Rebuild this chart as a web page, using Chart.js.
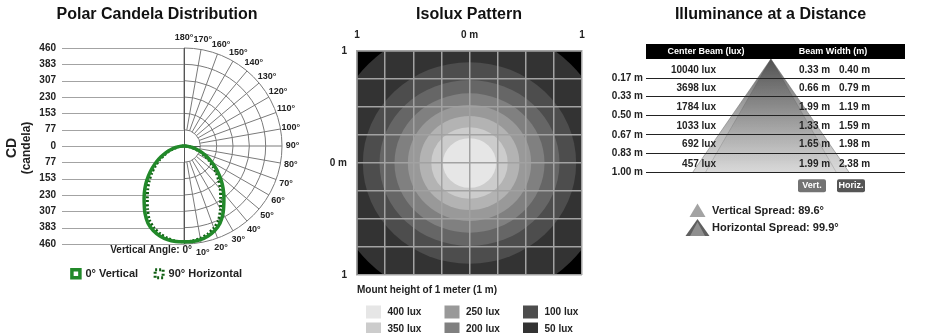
<!DOCTYPE html>
<html><head><meta charset="utf-8">
<script src="https://cdn.jsdelivr.net/npm/chart.js@4.4.1/dist/chart.umd.min.js"></script>
<style>
html,body{margin:0;padding:0;background:#fff;}
#wrap{position:relative;width:931px;height:333px;overflow:hidden;background:#fff;}
#wrap canvas{position:absolute;top:0;}
</style></head><body>
<div id="wrap">
<canvas id="polar" width="314" height="333" style="left:0px;width:314px;height:333px"></canvas>
<canvas id="isolux" width="298" height="333" style="left:320px;width:298px;height:333px"></canvas>
<canvas id="illum" width="321" height="333" style="left:610px;width:321px;height:333px"></canvas>
</div>
<script>
// ---------------- DATA ----------------
// Polar candela distribution (candela at vertical angle, degrees from nadir)
const polarAngles = [0,5,10,15,20,25,30,35,40,45,50,55,60,65,70,75,80,85,90];
const candelaVertical = [450,450,446,437,422,400,366,326,290,254,218,182,150,119,90,63,40,19,0];
const candelaHorizontal = [450,448,440,428,410,384,342,300,265,231,198,165,135,106,80,55,34,16,0];
const candelaTickValues = [460,383.33,306.67,230,153.33,76.67,0,-76.67,-153.33,-230,-306.67,-383.33,-460];
const candelaTickLabels = ['460','383','307','230','153','77','0','77','153','230','307','383','460'];
const polarRingValues = [76.67,153.33,230,306.67,383.33,460];
const polarGridAngles = [0,10,20,30,40,50,60,70,80,90,100,110,120,130,140,150,160,170,180];
const seriesNames = ['0° Vertical','90° Horizontal'];

// Isolux pattern (contour half-extent in metres at 1 m mount height)
const isoluxLevels = [400,350,300,250,200,150,100,50];
const isoluxHalfWidth = [0.237,0.34,0.444,0.548,0.667,0.80,0.948,1.27];
const isoluxHalfHeight = [0.222,0.32,0.42,0.518,0.622,0.74,0.90,1.25];
const isoluxGridTicks = [-1,-0.75,-0.5,-0.25,0,0.25,0.5,0.75,1];
const isoluxTickValues = [-1,0,1];
const isoluxTickLabels = ['1','0 m','1'];

// Illuminance at a distance
const distances = [0.17,0.33,0.50,0.67,0.83,1.00];
const distanceLabels = ['0.17 m','0.33 m','0.50 m','0.67 m','0.83 m','1.00 m'];
const centerBeamLux = [10040,3698,1784,1033,692,457];
const beamWidthVert = [0.33,0.66,1.99,1.33,1.65,1.99];
const beamWidthHoriz = [0.40,0.79,1.19,1.59,1.98,2.38];
const verticalSpread = 89.6;
const horizontalSpread = 99.9;

// ---------------- STYLE ----------------
const FONT = '"Liberation Sans", Arial, Helvetica, sans-serif';
Chart.defaults.font.family = FONT;
Chart.defaults.color = '#222';
const isoluxColors = ['#e6e6e6','#cccccc','#b3b3b3','#999999','#808080','#666666','#4d4d4d','#333333'];
const titleOpts = (text, bottom) => ({display:true, text, color:'#111',
  font:{size:16, weight:'bold', family:FONT}, padding:{top:5.4, bottom}});
const spacerAxis = w => ({type:'linear', position:'right', display:true,
  ticks:{display:false}, grid:{display:false, drawTicks:false}, border:{display:false},
  afterFit: s => { s.width = w; }});

// ---------------- POLAR ----------------
function polarPoints(vals){
  const pts = [];
  for (let i = polarAngles.length - 1; i >= 0; i--) {
    const a = polarAngles[i] * Math.PI / 180;
    pts.push({x: -vals[i] * Math.sin(a), y: -vals[i] * Math.cos(a)});
  }
  for (let i = 1; i < polarAngles.length; i++) {
    const a = polarAngles[i] * Math.PI / 180;
    pts.push({x: vals[i] * Math.sin(a), y: -vals[i] * Math.cos(a)});
  }
  return pts;
}

const polarGrid = {
  id: 'polarGrid',
  beforeDatasetsDraw(chart) {
    const {ctx, chartArea: a, scales: {x, y}} = chart;
    const cx = x.getPixelForValue(0), cy = y.getPixelForValue(0);
    const k = (x.getPixelForValue(460) - cx) / 460;
    const rIn = polarRingValues[0] * k, rOut = polarRingValues[polarRingValues.length - 1] * k;
    ctx.save();
    ctx.lineWidth = 1;
    ctx.strokeStyle = '#a3a3a3';
    candelaTickValues.forEach(v => {
      const py = Math.round(y.getPixelForValue(v)) + 0.5;
      ctx.beginPath(); ctx.moveTo(a.left, py); ctx.lineTo(cx, py); ctx.stroke();
    });
    ctx.strokeStyle = '#7a7a7a';
    polarRingValues.forEach(r => {
      ctx.beginPath(); ctx.arc(cx, cy, r * k, -Math.PI / 2, Math.PI / 2); ctx.stroke();
    });
    polarGridAngles.forEach(d => {
      const t = d * Math.PI / 180, sx = Math.sin(t), sy = Math.cos(t);
      ctx.beginPath(); ctx.moveTo(cx + rIn * sx, cy + rIn * sy); ctx.lineTo(cx + rOut * sx, cy + rOut * sy); ctx.stroke();
    });
    ctx.strokeStyle = '#555';
    ctx.beginPath(); ctx.moveTo(Math.round(cx) + 0.5, cy - rOut); ctx.lineTo(Math.round(cx) + 0.5, cy + rOut); ctx.stroke();
    ctx.beginPath(); ctx.moveTo(cx, Math.round(cy) + 0.5); ctx.lineTo(cx + rIn, Math.round(cy) + 0.5); ctx.stroke();
    // angle labels
    ctx.fillStyle = '#222';
    ctx.font = 'bold 9px ' + FONT;
    ctx.textAlign = 'center'; ctx.textBaseline = 'middle';
    polarGridAngles.forEach(d => {
      if (d === 0) return;
      const t = d * Math.PI / 180;
      ctx.fillText(d + '°', cx + (rOut + 10.5) * Math.sin(t), cy + (rOut + 10.5) * Math.cos(t));
    });
    ctx.font = 'bold 10px ' + FONT;
    ctx.textAlign = 'right';
    ctx.fillText('Vertical Angle: 0°', cx + 8, cy + rOut + 6.5);
    // axis title
    ctx.textAlign = 'center';
    ctx.translate(12.5, 148); ctx.rotate(-Math.PI / 2);
    ctx.font = 'bold 14px ' + FONT; ctx.fillText('CD', 0, 0);
    ctx.restore();
    ctx.save();
    ctx.fillStyle = '#222'; ctx.textAlign = 'center'; ctx.textBaseline = 'middle';
    ctx.translate(26.5, 148); ctx.rotate(-Math.PI / 2);
    ctx.font = 'bold 12px ' + FONT; ctx.fillText('(candela)', 0, 0);
    ctx.restore();
  }
};

new Chart(document.getElementById('polar'), {
  type: 'scatter',
  data: {datasets: [
    {label: seriesNames[0], data: polarPoints(candelaVertical), showLine: true, fill: false,
     borderColor: '#22892a', backgroundColor: '#ffffff', borderWidth: 3.5, pointRadius: 0, tension: 0.25},
    {label: seriesNames[1], data: polarPoints(candelaHorizontal), showLine: true, fill: false,
     borderColor: '#0f5e12', backgroundColor: '#ffffff', borderWidth: 3, borderDash: [2, 2], pointRadius: 0, tension: 0.25}
  ]},
  options: {
    responsive: false, animation: false, devicePixelRatio: 1,
    layout: {padding: {left: 0, right: 0, top: 0, bottom: 43.8}},
    plugins: {
      title: titleOpts('Polar Candela Distribution', 23.4),
      tooltip: {enabled: false},
      legend: {position: 'bottom',
        title: {display: true, text: '', font: {size: 1}, padding: {top: 6, bottom: 0}},
        labels: {boxWidth: 8, boxHeight: 8, padding: 17, color: '#222', font: {size: 11, weight: 'bold', family: FONT}}}
    },
    scales: {
      x: {type: 'linear', display: false, min: -572.7, max: 610.2},
      y: {type: 'linear', min: -460, max: 460,
        afterBuildTicks: s => { s.ticks = candelaTickValues.map(v => ({value: v})); },
        afterFit: s => { s.width = 62; },
        ticks: {autoSkip: false, padding: 6, color: '#222', font: {size: 10, weight: 'bold', family: FONT},
          callback: (v, i) => candelaTickLabels[i]},
        grid: {display: false, drawTicks: false}, border: {display: false}}
    }
  },
  plugins: [polarGrid]
});

// ---------------- ISOLUX ----------------
const isoluxPlugin = {
  id: 'isoluxFill',
  beforeDatasetsDraw(chart) {
    const {ctx, chartArea: a, scales: {x, y}} = chart;
    ctx.save();
    ctx.beginPath(); ctx.rect(a.left, a.top, a.width, a.height); ctx.clip();
    ctx.fillStyle = '#000'; ctx.fillRect(a.left, a.top, a.width, a.height);
    const cx = x.getPixelForValue(0), cy = y.getPixelForValue(0);
    for (let i = isoluxLevels.length - 1; i >= 0; i--) {
      const rx = x.getPixelForValue(isoluxHalfWidth[i]) - cx;
      const ry = cy - y.getPixelForValue(isoluxHalfHeight[i]);
      ctx.fillStyle = isoluxColors[i];
      ctx.beginPath(); ctx.ellipse(cx, cy, rx, ry, 0, 0, Math.PI * 2); ctx.fill();
    }
    ctx.restore();
  },
  afterDraw(chart) {
    const {ctx, chartArea: a} = chart;
    ctx.save();
    ctx.fillStyle = '#222'; ctx.textBaseline = 'middle'; ctx.textAlign = 'left';
    ctx.font = 'bold 10px ' + FONT;
    ctx.fillText('Mount height of 1 meter (1 m)', a.left, a.bottom + 15);
    const rows = 3, colX = [9, 87.5, 166];
    isoluxLevels.forEach((lv, i) => {
      const col = Math.floor(i / rows), row = i % rows;
      const sx = a.left + colX[col], sy = a.bottom + 30.5 + row * 17;
      ctx.fillStyle = isoluxColors[i];
      ctx.fillRect(sx, sy, 15, 13);
      ctx.fillStyle = '#222';
      ctx.fillText(lv + ' lux', sx + 21.5, sy + 6.5);
    });
    ctx.restore();
  }
};

const isoluxTickCb = v => { const i = isoluxTickValues.indexOf(v); return i >= 0 ? isoluxTickLabels[i] : ''; };
new Chart(document.getElementById('isolux'), {
  type: 'scatter',
  data: {datasets: []},
  options: {
    responsive: false, animation: false, devicePixelRatio: 1,
    layout: {padding: {left: 0, right: 0, top: 0, bottom: 58}},
    plugins: {title: titleOpts('Isolux Pattern', 0), legend: {display: false}, tooltip: {enabled: false}},
    scales: {
      x: {type: 'linear', position: 'top', min: -1, max: 1,
        afterBuildTicks: s => { s.ticks = isoluxGridTicks.map(v => ({value: v})); },
        afterFit: s => { s.height = 26.4; },
        ticks: {autoSkip: false, maxRotation: 0, padding: 10, color: '#222', font: {size: 10, weight: 'bold', family: FONT}, callback: isoluxTickCb},
        grid: {color: '#a2a2a2', lineWidth: 1.5, drawTicks: false, z: 1}, border: {color: '#a2a2a2', width: 1.5, z: 1}},
      y: {type: 'linear', position: 'left', min: -1, max: 1,
        afterBuildTicks: s => { s.ticks = isoluxGridTicks.map(v => ({value: v})); },
        afterFit: s => { s.width = 37; },
        ticks: {autoSkip: false, padding: 10, color: '#222', font: {size: 10, weight: 'bold', family: FONT}, callback: isoluxTickCb},
        grid: {color: '#a2a2a2', lineWidth: 1.5, drawTicks: false, z: 1}, border: {color: '#a2a2a2', width: 1.5, z: 1}},
      yRight: spacerAxis(36)
    }
  },
  plugins: [isoluxPlugin]
});

// ---------------- ILLUMINANCE ----------------
function triGradient(top, bottom) {
  return function(context) {
    const a = context.chart.chartArea;
    if (!a) return top;
    const g = context.chart.ctx.createLinearGradient(0, a.top, 0, a.bottom);
    g.addColorStop(0, top); g.addColorStop(1, bottom);
    return g;
  };
}
const illumPlugin = {
  id: 'illumText',
  afterDatasetsDraw(chart) {
    const {ctx, scales: {y}} = chart;
    ctx.save();
    ctx.font = 'bold 10px ' + FONT; ctx.fillStyle = '#222'; ctx.textBaseline = 'middle';
    distances.forEach((d, i) => {
      const py = y.getPixelForValue(d) - 8.5;
      ctx.textAlign = 'right'; ctx.fillText(centerBeamLux[i] + ' lux', 106, py);
      ctx.textAlign = 'left';
      ctx.fillText(beamWidthVert[i].toFixed(2) + ' m', 189, py);
      ctx.fillText(beamWidthHoriz[i].toFixed(2) + ' m', 229, py);
    });
    ctx.restore();
  },
  afterDraw(chart) {
    const {ctx, chartArea: a} = chart;
    ctx.save();
    ctx.fillStyle = '#000';
    ctx.fillRect(a.left, a.top - 15, a.width, 15);
    ctx.fillStyle = '#fff'; ctx.font = 'bold 9px ' + FONT; ctx.textAlign = 'center'; ctx.textBaseline = 'middle';
    ctx.fillText('Center Beam (lux)', 96, a.top - 7.5);
    ctx.fillText('Beam Width (m)', 223, a.top - 7.5);
    // buttons
    const btn = (x0, w, col, txt) => {
      ctx.fillStyle = col; ctx.beginPath(); ctx.roundRect(x0, a.bottom + 7, w, 13, 2); ctx.fill();
      ctx.fillStyle = '#fff'; ctx.fillText(txt, x0 + w / 2, a.bottom + 13.7);
    };
    btn(188, 28, '#737373', 'Vert.');
    btn(227, 28, '#555555', 'Horiz.');
    // spread legend
    ctx.fillStyle = '#a3a3a3';
    ctx.beginPath(); ctx.moveTo(87.5, 203.5); ctx.lineTo(95.5, 217); ctx.lineTo(79.5, 217); ctx.closePath(); ctx.fill();
    ctx.fillStyle = '#5f5f5f';
    ctx.beginPath(); ctx.moveTo(87.5, 219); ctx.lineTo(99.5, 236); ctx.lineTo(75.5, 236); ctx.closePath(); ctx.fill();
    ctx.fillStyle = '#8f8f8f';
    ctx.beginPath(); ctx.moveTo(87.5, 222); ctx.lineTo(95, 236); ctx.lineTo(80, 236); ctx.closePath(); ctx.fill();
    ctx.fillStyle = '#222'; ctx.textAlign = 'left'; ctx.font = 'bold 11px ' + FONT;
    ctx.fillText('Vertical Spread: ' + verticalSpread + '°', 102, 211);
    ctx.fillText('Horizontal Spread: ' + horizontalSpread + '°', 102, 227.5);
    ctx.restore();
  }
};

const halfH = beamWidthHoriz[beamWidthHoriz.length - 1] / 2;
const halfV = beamWidthVert[beamWidthVert.length - 1] / 2;
const lastD = distances[distances.length - 1];
new Chart(document.getElementById('illum'), {
  type: 'scatter',
  data: {datasets: [
    {label: 'Horizontal Spread', data: [{x: -halfH, y: lastD}, {x: 0, y: 0}, {x: halfH, y: lastD}],
     showLine: true, fill: {value: lastD}, pointRadius: 0, borderWidth: 1, borderColor: 'rgba(100,100,100,0.45)',
     backgroundColor: triGradient('rgba(60,60,60,0.78)', 'rgba(180,180,180,0.5)')},
    {label: 'Vertical Spread', data: [{x: -halfV, y: lastD}, {x: 0, y: 0}, {x: halfV, y: lastD}],
     showLine: true, fill: {value: lastD}, pointRadius: 0, borderWidth: 1, borderColor: 'rgba(100,100,100,0.4)',
     backgroundColor: triGradient('rgba(60,60,60,0.5)', 'rgba(255,255,255,0.55)')}
  ]},
  options: {
    responsive: false, animation: false, devicePixelRatio: 1,
    layout: {padding: {left: 0, right: 0, top: 0, bottom: 160.7}},
    plugins: {title: titleOpts('Illuminance at a Distance', 34.4), legend: {display: false}, tooltip: {enabled: false}},
    scales: {
      x: {type: 'linear', display: false, min: -1.9, max: 2.04},
      y: {type: 'linear', reverse: true, min: 0, max: 1,
        afterBuildTicks: s => { s.ticks = distances.map(v => ({value: v})); },
        afterFit: s => { s.width = 36; },
        ticks: {autoSkip: false, padding: 3, color: '#222', font: {size: 10, weight: 'bold', family: FONT},
          callback: (v, i) => distanceLabels[i]},
        grid: {color: '#222', lineWidth: 1, drawTicks: false, z: 1}, border: {display: false}},
      yRight: spacerAxis(26)
    }
  },
  plugins: [illumPlugin]
});
</script>
</body></html>
